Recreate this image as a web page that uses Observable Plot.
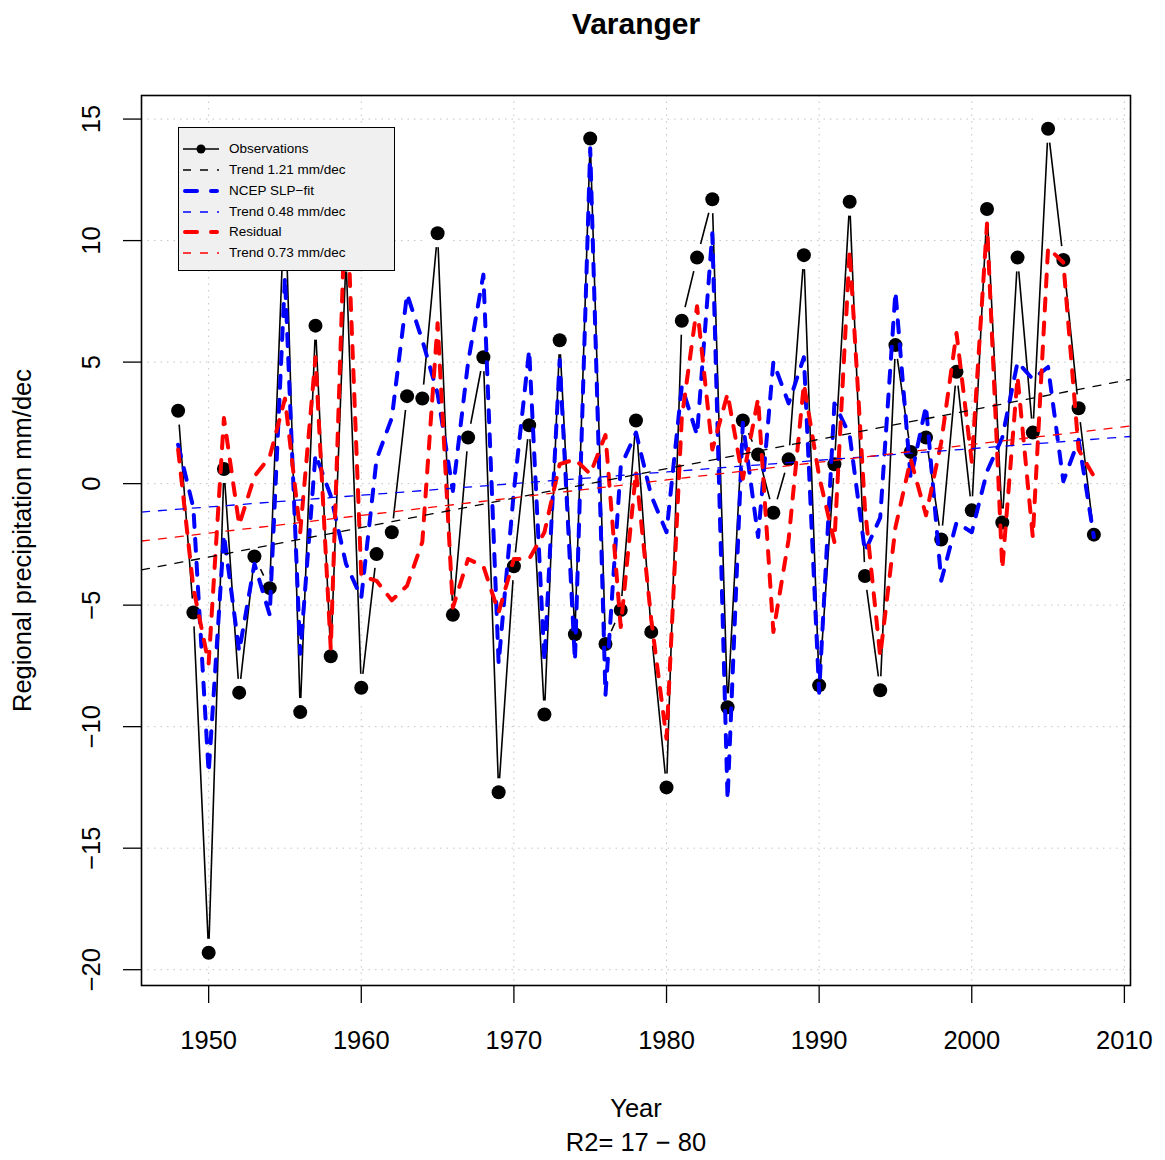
<!DOCTYPE html>
<html>
<head>
<meta charset="utf-8">
<script src="https://cdn.jsdelivr.net/npm/d3@7"></script>
<script src="https://cdn.jsdelivr.net/npm/@observablehq/plot@0.6"></script>
<style>
  html, body { margin: 0; padding: 0; background: #fff; }
  #wrap { position: relative; width: 1165px; height: 1160px; }
  #legend {
    position: absolute; left: 178px; top: 127px; width: 215px; height: 142px;
    background: #f0f0f0; border: 1.5px solid #000;
    font-family: "Liberation Sans", Arial, sans-serif; font-size: 13.5px; color: #000;
  }
  #legend .row { position: absolute; left: 0; height: 20px; width: 215px; }
  #legend svg { position: absolute; left: 0; top: 0; }
  #legend span { position: absolute; left: 50px; top: 2px; line-height: 16px; white-space: nowrap; }
</style>
</head>
<body>
<div id="wrap"></div>
<script>
// ---- data ----
const years = [1948,1949,1950,1951,1952,1953,1954,1955,1956,1957,1958,1959,1960,1961,1962,1963,1964,1965,1966,1967,
  1968,1969,1970,1971,1972,1973,1974,1975,1976,1977,1978,1979,1980,1981,1982,1983,1984,1985,1986,1987,
  1988,1989,1990,1991,1992,1993,1994,1995,1996,1997,1998,1999,2000,2001,2002,2003,2004,2005,2006,2007,2008];

const observed = [3.0,-5.3,-19.3,0.6,-8.6,-3.0,-4.3,12.0,-9.4,6.5,-7.1,9.3,-8.4,-2.9,-2.0,3.6,3.5,10.3,-5.4,1.9,
  5.2,-12.7,-3.4,2.4,-9.5,5.9,-6.2,14.2,-6.6,-5.2,2.6,-6.1,-12.5,6.7,9.3,11.7,-9.2,2.6,1.2,-1.2,
  1.0,9.4,-8.3,0.8,11.6,-3.8,-8.5,5.7,1.3,1.9,-2.3,4.6,-1.1,11.3,-1.6,9.3,2.1,14.6,9.2,3.1,-2.1];

const slpFit = [1.6,-1.0,-11.9,-2.1,-6.9,-3.3,-5.4,8.5,-7.0,1.2,-0.5,-3.3,-4.7,1.0,2.7,7.8,5.9,3.7,-0.3,5.0,
  8.6,-7.4,-0.3,5.5,-7.3,5.1,-7.3,13.8,-8.7,0.7,2.1,-0.5,-2.0,4.0,2.0,10.3,-13.0,2.5,-2.2,5.0,
  3.3,5.2,-8.6,3.3,2.0,-2.8,-1.4,7.9,0.2,3.2,-4.0,-1.6,-2.0,0.5,1.9,5.0,4.3,4.8,0.1,1.8,-2.2];

const residual = [1.4,-4.3,-7.4,2.7,-1.7,0.3,1.1,3.5,-2.0,5.2,-6.8,12.5,-3.8,-4.0,-4.8,-4.2,-2.4,6.6,-5.1,-3.1,
  -3.4,-5.3,-3.1,-3.1,-2.0,0.8,1.0,0.4,2.0,-5.9,0.5,-5.6,-10.5,2.7,7.3,1.4,3.7,0.2,3.5,-6.1,
  -2.3,4.1,0.3,-2.4,9.6,-1.0,-7.1,-1.8,1.0,-1.3,1.7,6.2,0.9,10.7,-3.5,4.4,-2.2,9.7,9.1,1.4,0.3];

// trend lines (values at the left and right edges of the plot region)
const trendYears = [1945.6, 2010.4];
const trendObserved = [-3.55, 4.29];
const trendFit = [-1.17, 1.94];
const trendResidual = [-2.36, 2.37];

const xTicks = [1950, 1960, 1970, 1980, 1990, 2000, 2010];
const yTicks = [-20, -15, -10, -5, 0, 5, 10, 15];

const legendLabels = ["Observations", "Trend 1.21 mm/dec", "NCEP SLP\u2212fit", "Trend 0.48 mm/dec", "Residual", "Trend 0.73 mm/dec"];

// ---- tables ----
const obsT = years.map((y, i) => ({year: y, value: observed[i]}));
const fitT = years.map((y, i) => ({year: y, value: slpFit[i]}));
const resT = years.map((y, i) => ({year: y, value: residual[i]}));
const trO = trendYears.map((y, i) => ({year: y, value: trendObserved[i]}));
const trF = trendYears.map((y, i) => ({year: y, value: trendFit[i]}));
const trR = trendYears.map((y, i) => ({year: y, value: trendResidual[i]}));

const BLUE = "#0000ff", RED = "#ff0000";
const AX_FONT = "'Liberation Sans', Arial, sans-serif";
const AX_SIZE = 25.5;
const minus = d => d < 0 ? "\u2212" + Math.abs(d) : String(d);
const txt = {fontSize: AX_SIZE, fontFamily: AX_FONT, fill: "black", lineAnchor: "middle", textAnchor: "middle"};

const thick = {strokeWidth: 4, strokeDasharray: "12,12", strokeLinecap: "round", strokeLinejoin: "round"};
const thin = {strokeWidth: 1.3, strokeDasharray: "8,9"};

const chart = Plot.plot({
  width: 1165,
  height: 1160,
  marginLeft: 141,
  marginRight: 35,
  marginTop: 95,
  marginBottom: 175,
  style: {fontFamily: AX_FONT, background: "white"},
  x: {domain: [1945.6, 2010.4], axis: null},
  y: {domain: [-20.65, 15.97], axis: null},
  marks: [
    Plot.gridX(xTicks, {stroke: "#c4c4c4", strokeOpacity: 1, strokeDasharray: "1.5,5"}),
    Plot.gridY(yTicks, {stroke: "#c4c4c4", strokeOpacity: 1, strokeDasharray: "1.5,5"}),
    Plot.axisX(xTicks, {tickSize: 18, tickFormat: () => "", strokeWidth: 1.3, label: null}),
    Plot.axisY(yTicks, {tickSize: 18, tickFormat: () => "", strokeWidth: 1.3, label: null}),
    Plot.text(xTicks, {x: d => d, frameAnchor: "bottom", dy: 55, text: d => String(d), ...txt}),
    Plot.text(yTicks, {y: d => d, frameAnchor: "left", dx: -50, rotate: -90, text: minus, ...txt}),
    Plot.text(["Regional precipitation mm/dec"], {frameAnchor: "left", dx: -119, rotate: -90, ...txt}),
    Plot.text(["Year"], {frameAnchor: "bottom", dy: 123, ...txt}),
    Plot.text(["R2= 17 \u2212 80"], {frameAnchor: "bottom", dy: 157, ...txt}),
    Plot.text(["Varanger"], {frameAnchor: "top", dy: -71, ...txt, fontSize: 30, fontWeight: "bold"}),
    // observations (type "b": line with gaps round the points)
    Plot.line(obsT, {x: "year", y: "value", stroke: "black", strokeWidth: 1.6}),
    Plot.dot(obsT, {x: "year", y: "value", r: 14, fill: "white", stroke: null}),
    Plot.dot(obsT, {x: "year", y: "value", r: 7, fill: "black", stroke: null}),
    // SLP fit and residual
    Plot.line(fitT, {x: "year", y: "value", stroke: BLUE, ...thick}),
    Plot.line(resT, {x: "year", y: "value", stroke: RED, ...thick}),
    // trends
    Plot.line(trO, {x: "year", y: "value", stroke: "black", ...thin}),
    Plot.line(trF, {x: "year", y: "value", stroke: BLUE, ...thin}),
    Plot.line(trR, {x: "year", y: "value", stroke: RED, ...thin}),
    Plot.frame({stroke: "black", strokeWidth: 1.6})
  ]
});

const wrap = document.getElementById("wrap");
wrap.appendChild(chart);

// ---- legend ----
const legend = document.createElement("div");
legend.id = "legend";
const styles = [
  {stroke: "black", w: 1.6, dash: null, dot: true},
  {stroke: "black", w: 1.3, dash: "8,9"},
  {stroke: BLUE, w: 4, dash: "12,14", cap: "round"},
  {stroke: BLUE, w: 1.3, dash: "8,9"},
  {stroke: RED, w: 4, dash: "12,14", cap: "round"},
  {stroke: RED, w: 1.3, dash: "8,9"}
];
const rowTops = [11, 32, 53, 74, 94, 115];
legendLabels.forEach((lab, i) => {
  const s = styles[i];
  const row = document.createElement("div");
  row.className = "row";
  row.style.top = rowTops[i] + "px";
  const ns = "http://www.w3.org/2000/svg";
  const svg = document.createElementNS(ns, "svg");
  svg.setAttribute("width", 46); svg.setAttribute("height", 20);
  const ln = document.createElementNS(ns, "line");
  ln.setAttribute("x1", s.cap ? 6 : 4); ln.setAttribute("x2", s.cap ? 38 : 40);
  ln.setAttribute("y1", 10); ln.setAttribute("y2", 10);
  ln.setAttribute("stroke", s.stroke); ln.setAttribute("stroke-width", s.w);
  if (s.dash) ln.setAttribute("stroke-dasharray", s.dash);
  if (s.cap) ln.setAttribute("stroke-linecap", s.cap);
  svg.appendChild(ln);
  if (s.dot) {
    const c = document.createElementNS(ns, "circle");
    c.setAttribute("cx", 22); c.setAttribute("cy", 10); c.setAttribute("r", 4.5);
    c.setAttribute("fill", "black");
    svg.appendChild(c);
  }
  row.appendChild(svg);
  const sp = document.createElement("span");
  sp.textContent = lab;
  row.appendChild(sp);
  legend.appendChild(row);
});
wrap.appendChild(legend);
</script>
</body>
</html>
